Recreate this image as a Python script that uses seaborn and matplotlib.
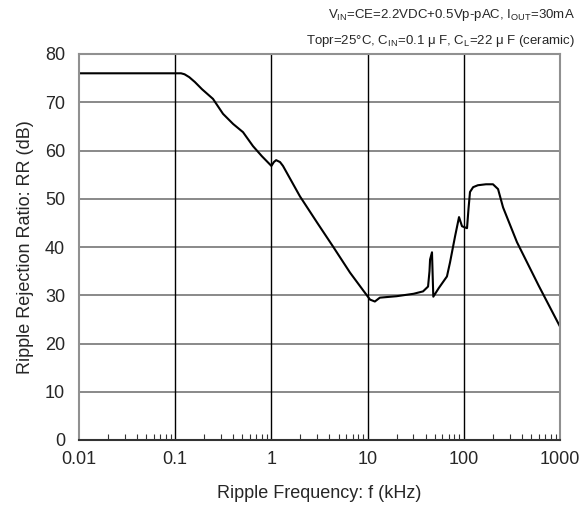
import matplotlib
matplotlib.use("Agg")
import matplotlib.pyplot as plt
import seaborn as sns
import numpy as np
import pandas as pd
from matplotlib.ticker import FixedLocator, LogLocator, NullFormatter

freq_khz = [0.01, 0.05, 0.10, 0.115, 0.125, 0.14, 0.16, 0.19, 0.247, 0.314, 0.40, 0.507, 0.644, 0.798,
            1.0, 1.06, 1.12, 1.23, 1.32, 1.98, 3.0, 4.37, 6.56, 9.0, 10.6, 11.9, 13.4,
            20.0, 30.0, 37.7, 42.5, 44.0, 44.6, 46.7, 47.5, 48.2, 55.0, 66.8, 71.9,
            81.1, 89.2, 95.8, 108.0, 112.0, 116.0, 125.0, 140.0, 170.0, 201.0, 227.0,
            256.0, 357.0, 600.0, 1000.0]
rr_db = [76.0, 76.0, 76.0, 76.0, 75.8, 75.2, 74.2, 72.7, 70.7, 67.6, 65.5, 63.8, 60.9, 58.8,
         56.8, 57.6, 58.0, 57.6, 56.8, 50.5, 45.0, 40.1, 34.7, 31.0, 29.1, 28.7, 29.5,
         29.8, 30.3, 30.8, 31.8, 35.0, 37.4, 38.9, 33.9, 29.7, 31.5, 33.9, 36.8,
         42.2, 46.2, 44.3, 43.9, 48.0, 51.4, 52.4, 52.8, 53.0, 53.0, 52.0,
         48.2, 41.0, 32.0, 23.5]

x_ticks = [0.01, 0.1, 1, 10, 100, 1000]
x_tick_labels = ["0.01", "0.1", "1", "10", "100", "1000"]
y_ticks = [0, 10, 20, 30, 40, 50, 60, 70, 80]

sns.set_style("white")
plt.rcParams['font.family'] = ['Liberation Sans', 'DejaVu Sans']

fig = plt.figure(figsize=(5.87, 5.20), dpi=100)
ax = fig.add_axes([79/587, 1-440/520, (560-79)/587, (440-54)/520])

df = pd.DataFrame({"f": freq_khz, "rr": rr_db})
sns.lineplot(data=df, x="f", y="rr", ax=ax, color="black", linewidth=1.5,
             sort=False, estimator=None)

ax.set_xscale("log")
ax.set_xlim(0.01, 1000)
ax.set_ylim(0, 80)

for yv in y_ticks[1:-1]:
    ax.axhline(yv, color="#808080", linewidth=1.3, zorder=1)
for xv in x_ticks[1:-1]:
    ax.axvline(xv, color="black", linewidth=1.0, zorder=1)

ax.xaxis.set_major_locator(FixedLocator(x_ticks))
ax.set_xticklabels(x_tick_labels)
ax.xaxis.set_minor_locator(LogLocator(base=10, subs=np.arange(2, 10), numticks=20))
ax.xaxis.set_minor_formatter(NullFormatter())
ax.set_yticks(y_ticks)

ax.tick_params(axis="x", which="major", direction="in", length=0, labelsize=13, pad=8)
ax.tick_params(axis="x", which="minor", bottom=True, direction="in", length=4,
               width=0.8, color="#333333")
ax.tick_params(axis="y", which="major", direction="in", length=0, labelsize=13, pad=10)

for side in ["left", "right", "top"]:
    ax.spines[side].set_color("#909090")
    ax.spines[side].set_linewidth(1.5)
ax.spines["bottom"].set_color("#333333")
ax.spines["bottom"].set_linewidth(1.5)

ax.set_xlabel("Ripple Frequency: f (kHz)", fontsize=13, labelpad=12)
ax.set_ylabel("Ripple Rejection Ratio: RR (dB)", fontsize=13, labelpad=8)

fig.text(575/587, 1-15/520, r"V$_{\mathregular{IN}}$=CE=2.2VDC+0.5Vp-pAC, I$_{\mathregular{OUT}}$=30mA",
         ha="right", va="center", fontsize=9.5)
fig.text(575/587, 1-41/520, "Topr=25\u00b0C, C$_{\\mathregular{IN}}$=0.1 \u03bc F, C$_{\\mathregular{L}}$=22 \u03bc F (ceramic)",
         ha="right", va="center", fontsize=9.5)

fig.savefig("out.png", dpi=100)
